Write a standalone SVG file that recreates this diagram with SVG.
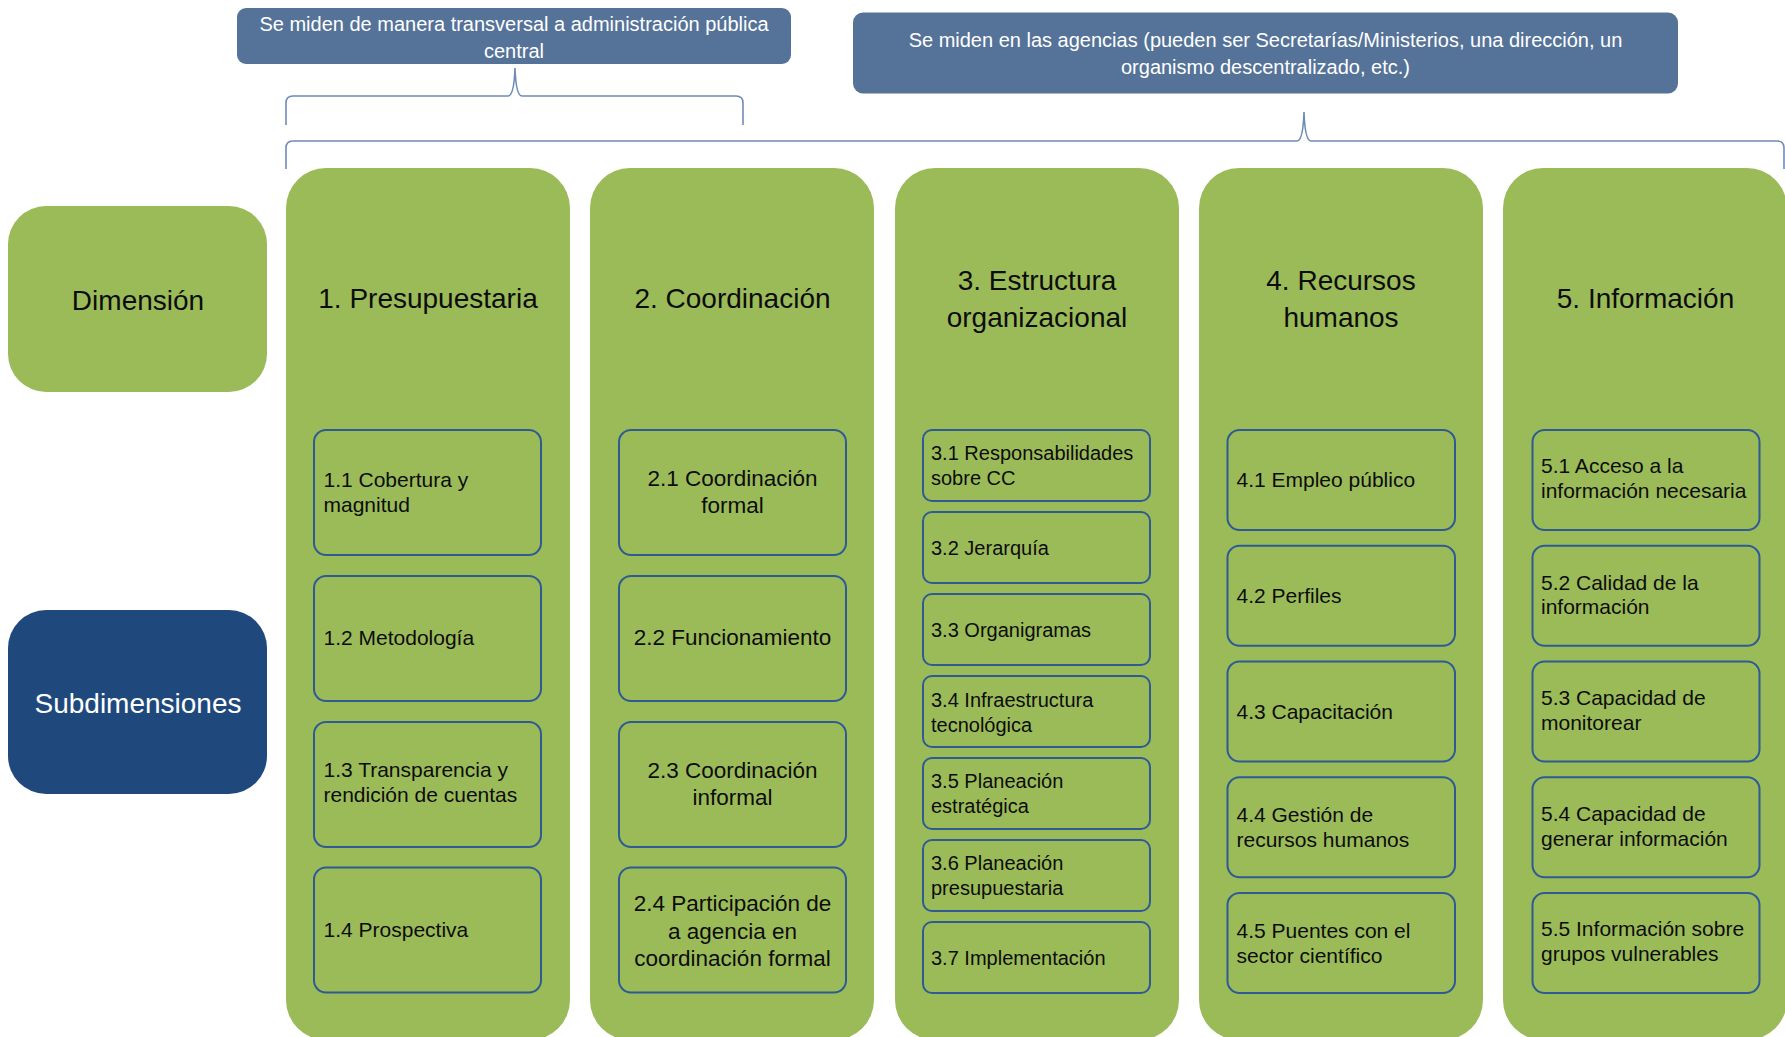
<svg xmlns="http://www.w3.org/2000/svg" width="1785" height="1037" viewBox="0 0 1785 1037">
<style>
.note{fill:#557399}
.notet{fill:#ffffff;font-family:"Liberation Sans",Arial,sans-serif;font-size:20px;text-anchor:middle}
.col{fill:#9BBB59}
.dim{fill:#9BBB59}
.sub{fill:#1F497D}
.lab{font-family:"Liberation Sans",Arial,sans-serif;font-size:28px;text-anchor:middle;fill:#0d0d0d}
.sb{fill:#9BBB59;stroke:#2E5B94;stroke-width:2}
.st{font-family:"Liberation Sans",Arial,sans-serif;font-size:21px;fill:#0d0d0d}
.c2{font-size:22.5px;text-anchor:middle}
.c3{font-size:20px}
.brace{fill:none;stroke:#6F8CB6;stroke-width:1.6}
</style>

<g id="note-central">
<rect class="note" x="237" y="8" width="554" height="56" rx="9"/>
<text class="notet" x="514" y="31">Se miden de manera transversal a administración pública</text>
<text class="notet" x="514" y="58">central</text>
</g>

<g id="note-agencias">
<rect class="note" x="853" y="12.5" width="825" height="81" rx="10"/>
<text class="notet" x="1265.5" y="47">Se miden en las agencias (pueden ser Secretarías/Ministerios, una dirección, un</text>
<text class="notet" x="1265.5" y="74">organismo descentralizado, etc.)</text>
</g>

<g id="connectors">
<path class="brace" d="M286,125 L286,103 Q286,96 293,96 L508,96 Q514,96 515,68 Q516,96 522,96 L736,96 Q743,96 743,103 L743,125"/>
<path class="brace" d="M286,169 L286,148 Q286,141 293,141 L1297,141 Q1303,141 1304,112 Q1305,141 1311,141 L1777,141 Q1784,141 1784,148 L1784,169"/>
</g>

<g id="label-dimension">
<rect class="dim" x="8" y="206" width="259" height="186" rx="38"/>
<text class="lab" x="138" y="310">Dimensión</text>
</g>

<g id="label-subdimensiones">
<rect class="sub" x="8" y="610" width="259" height="184" rx="38"/>
<text class="lab" x="138" y="713" style="fill:#ffffff">Subdimensiones</text>
</g>

<g id="col1">
<rect class="col" x="286" y="168" width="284" height="872" rx="40"/>
<text class="lab" x="428" y="308">1. Presupuestaria</text>
<rect class="sb" x="314" y="430" width="227" height="125" rx="12"/>
<text class="st" x="323.5" y="487">1.1 Cobertura y</text>
<text class="st" x="323.5" y="512">magnitud</text>
<rect class="sb" x="314" y="576" width="227" height="125" rx="12"/>
<text class="st" x="323.5" y="645">1.2 Metodología</text>
<rect class="sb" x="314" y="722" width="227" height="125" rx="12"/>
<text class="st" x="323.5" y="777">1.3 Transparencia y</text>
<text class="st" x="323.5" y="802">rendición de cuentas</text>
<rect class="sb" x="314" y="867.5" width="227" height="125" rx="12"/>
<text class="st" x="323.5" y="937">1.4 Prospectiva</text>
</g>

<g id="col2">
<rect class="col" x="590" y="168" width="284" height="872" rx="40"/>
<text class="lab" x="732.5" y="308">2. Coordinación</text>
<rect class="sb" x="619" y="430" width="227" height="125" rx="12"/>
<text class="st c2" x="732.5" y="486">2.1 Coordinación</text>
<text class="st c2" x="732.5" y="513">formal</text>
<rect class="sb" x="619" y="576" width="227" height="125" rx="12"/>
<text class="st c2" x="732.5" y="645">2.2 Funcionamiento</text>
<rect class="sb" x="619" y="722" width="227" height="125" rx="12"/>
<text class="st c2" x="732.5" y="777.5">2.3 Coordinación</text>
<text class="st c2" x="732.5" y="805">informal</text>
<rect class="sb" x="619" y="867.5" width="227" height="125" rx="12"/>
<text class="st c2" x="732.5" y="911">2.4 Participación de</text>
<text class="st c2" x="732.5" y="939">a agencia en</text>
<text class="st c2" x="732.5" y="966">coordinación formal</text>
</g>

<g id="col3">
<rect class="col" x="895" y="168" width="284" height="872" rx="40"/>
<text class="lab" x="1037" y="290">3. Estructura</text>
<text class="lab" x="1037" y="326.5">organizacional</text>
<rect class="sb" x="923" y="430" width="227" height="71" rx="9"/>
<text class="st c3" x="931" y="460">3.1 Responsabilidades</text>
<text class="st c3" x="931" y="484.5">sobre CC</text>
<rect class="sb" x="923" y="512" width="227" height="71" rx="9"/>
<text class="st c3" x="931" y="554.5">3.2 Jerarquía</text>
<rect class="sb" x="923" y="594" width="227" height="71" rx="9"/>
<text class="st c3" x="931" y="636.5">3.3 Organigramas</text>
<rect class="sb" x="923" y="676" width="227" height="71" rx="9"/>
<text class="st c3" x="931" y="706.5">3.4 Infraestructura</text>
<text class="st c3" x="931" y="731.5">tecnológica</text>
<rect class="sb" x="923" y="758" width="227" height="71" rx="9"/>
<text class="st c3" x="931" y="788">3.5 Planeación</text>
<text class="st c3" x="931" y="813">estratégica</text>
<rect class="sb" x="923" y="840" width="227" height="71" rx="9"/>
<text class="st c3" x="931" y="870">3.6 Planeación</text>
<text class="st c3" x="931" y="895">presupuestaria</text>
<rect class="sb" x="923" y="922" width="227" height="71" rx="9"/>
<text class="st c3" x="931" y="964.5">3.7 Implementación</text>
</g>

<g id="col4">
<rect class="col" x="1199" y="168" width="284" height="872" rx="40"/>
<text class="lab" x="1341" y="290">4. Recursos</text>
<text class="lab" x="1341" y="326.5">humanos</text>
<rect class="sb" x="1227.5" y="430" width="227.5" height="100" rx="12"/>
<text class="st" x="1236.5" y="487">4.1 Empleo público</text>
<rect class="sb" x="1227.5" y="545.75" width="227.5" height="100" rx="12"/>
<text class="st" x="1236.5" y="602.5">4.2 Perfiles</text>
<rect class="sb" x="1227.5" y="661.5" width="227.5" height="100" rx="12"/>
<text class="st" x="1236.5" y="718.5">4.3 Capacitación</text>
<rect class="sb" x="1227.5" y="777.25" width="227.5" height="100" rx="12"/>
<text class="st" x="1236.5" y="822">4.4 Gestión de</text>
<text class="st" x="1236.5" y="847">recursos humanos</text>
<rect class="sb" x="1227.5" y="893" width="227.5" height="100" rx="12"/>
<text class="st" x="1236.5" y="938">4.5 Puentes con el</text>
<text class="st" x="1236.5" y="963">sector científico</text>
</g>

<g id="col5">
<rect class="col" x="1503" y="168" width="284" height="872" rx="40"/>
<text class="lab" x="1645.5" y="308">5. Información</text>
<rect class="sb" x="1532.5" y="430" width="227" height="100" rx="12"/>
<text class="st" x="1541" y="473">5.1 Acceso a la</text>
<text class="st" x="1541" y="498">información necesaria</text>
<rect class="sb" x="1532.5" y="545.75" width="227" height="100" rx="12"/>
<text class="st" x="1541" y="589.5">5.2 Calidad de la</text>
<text class="st" x="1541" y="614">información</text>
<rect class="sb" x="1532.5" y="661.5" width="227" height="100" rx="12"/>
<text class="st" x="1541" y="704.5">5.3 Capacidad de</text>
<text class="st" x="1541" y="729.5">monitorear</text>
<rect class="sb" x="1532.5" y="777.25" width="227" height="100" rx="12"/>
<text class="st" x="1541" y="820.5">5.4 Capacidad de</text>
<text class="st" x="1541" y="845.5">generar información</text>
<rect class="sb" x="1532.5" y="893" width="227" height="100" rx="12"/>
<text class="st" x="1541" y="936">5.5 Información sobre</text>
<text class="st" x="1541" y="961">grupos vulnerables</text>
</g>
</svg>
